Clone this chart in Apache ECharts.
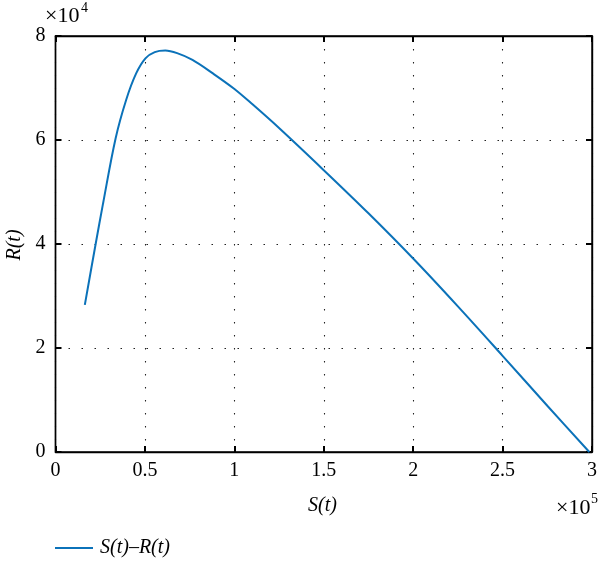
<!DOCTYPE html>
<html>
<head>
<meta charset="utf-8">
<script src="https://cdn.jsdelivr.net/npm/echarts@6/dist/echarts.min.js"></script>
<style>
html,body{margin:0;padding:0;background:#fff;}
#chart{width:600px;height:561px;}
</style>
</head>
<body>
<div id="chart"></div>
<script>
// Data
const sValues = [16400, 22500, 26600, 33600, 39500, 45100, 50300, 55500, 61400, 68000, 76600, 88000, 99700, 110000, 125000, 150000, 175000, 200000, 225000, 250000, 275000, 298500];
const rValues = [28300, 40100, 47800, 60300, 67700, 72800, 75700, 76900, 77200, 76700, 75400, 72800, 69900, 66900, 62300, 54200, 45900, 37200, 28000, 18500, 8900, 0];
const seriesName = 'S(t)\u2013R(t)';
const xTickScale = 1e5;
const yTickScale = 1e4;

const FONT = '"Liberation Serif", "DejaVu Serif", serif';
const points = sValues.map((s, i) => [s, rValues[i]]);

const chart = echarts.init(document.getElementById('chart'), null, {renderer: 'canvas'});

const splitStyle = {show: true, lineStyle: {color: '#222', width: 1.1, type: [1.5, 11.5]}};
function axisLineStyle() { return {show: true, onZero: false, lineStyle: {color: '#000', width: 1.4}}; }
function tickStyle() { return {show: true, inside: true, length: 6, lineStyle: {color: '#000', width: 2}}; }

function txt(text, x, y, size, italic, extra) {
  return Object.assign({
    type: 'text', x: x, y: y, z: 100,
    style: {text: text, fontFamily: FONT, fontSize: size, fontStyle: italic ? 'italic' : 'normal',
      fill: '#000', verticalAlign: 'middle', align: 'left'}
  }, extra || {});
}

const g = [
  txt('S(t)', 308, 506, 20, true),
  txt('R(t)', 15, 245, 20, true, {rotation: Math.PI / 2}),
  txt('\u00d710', 45, 16, 22, false),
  txt('4', 81, 8, 14, false),
  txt('\u00d710', 556, 508, 22, false),
  txt('5', 591, 499, 14, false)
];
g[1].style.align = 'center';

chart.setOption({
  animation: false,
  backgroundColor: '#fff',
  grid: {left: 55.5, right: 4.5, top: 36, bottom: 109, containLabel: false,
    show: true, borderColor: '#000', borderWidth: 1.4, backgroundColor: 'transparent'},
  legend: {
    left: 55, top: 538, padding: 0,
    itemWidth: 38, itemHeight: 2, itemGap: 10,
    data: [{name: seriesName, icon: 'rect'}],
    textStyle: {fontFamily: FONT, fontSize: 20, fontStyle: 'italic', color: '#000', padding: [0, 0, 0, 2]}
  },
  xAxis: [
    {
      type: 'value', min: 0, max: 300000, interval: 50000, position: 'bottom',
      axisLine: axisLineStyle(), axisTick: tickStyle(), splitLine: splitStyle,
      axisLabel: {
        margin: 9, fontFamily: FONT, fontSize: 20, color: '#000',
        formatter: v => String(v / xTickScale)
      }
    },
    {
      type: 'value', min: 0, max: 300000, interval: 50000, position: 'top',
      axisLine: axisLineStyle(), axisTick: tickStyle(), splitLine: {show: false},
      axisLabel: {show: false}
    }
  ],
  yAxis: [
    {
      type: 'value', min: 0, max: 80000, interval: 20000, position: 'left',
      axisLine: axisLineStyle(), axisTick: tickStyle(), splitLine: splitStyle,
      axisLabel: {
        margin: 10, fontFamily: FONT, fontSize: 20, color: '#000',
        formatter: v => String(v / yTickScale)
      }
    },
    {
      type: 'value', min: 0, max: 80000, interval: 20000, position: 'right',
      axisLine: axisLineStyle(), axisTick: tickStyle(), splitLine: {show: false},
      axisLabel: {show: false}
    }
  ],
  series: [{
    name: seriesName,
    type: 'line',
    xAxisIndex: 0, yAxisIndex: 0,
    data: points,
    smooth: 0.35,
    symbol: 'none',
    showSymbol: false,
    lineStyle: {color: '#0b72b9', width: 2},
    itemStyle: {color: '#0b72b9'}
  }],
  graphic: g
});
</script>
</body>
</html>
